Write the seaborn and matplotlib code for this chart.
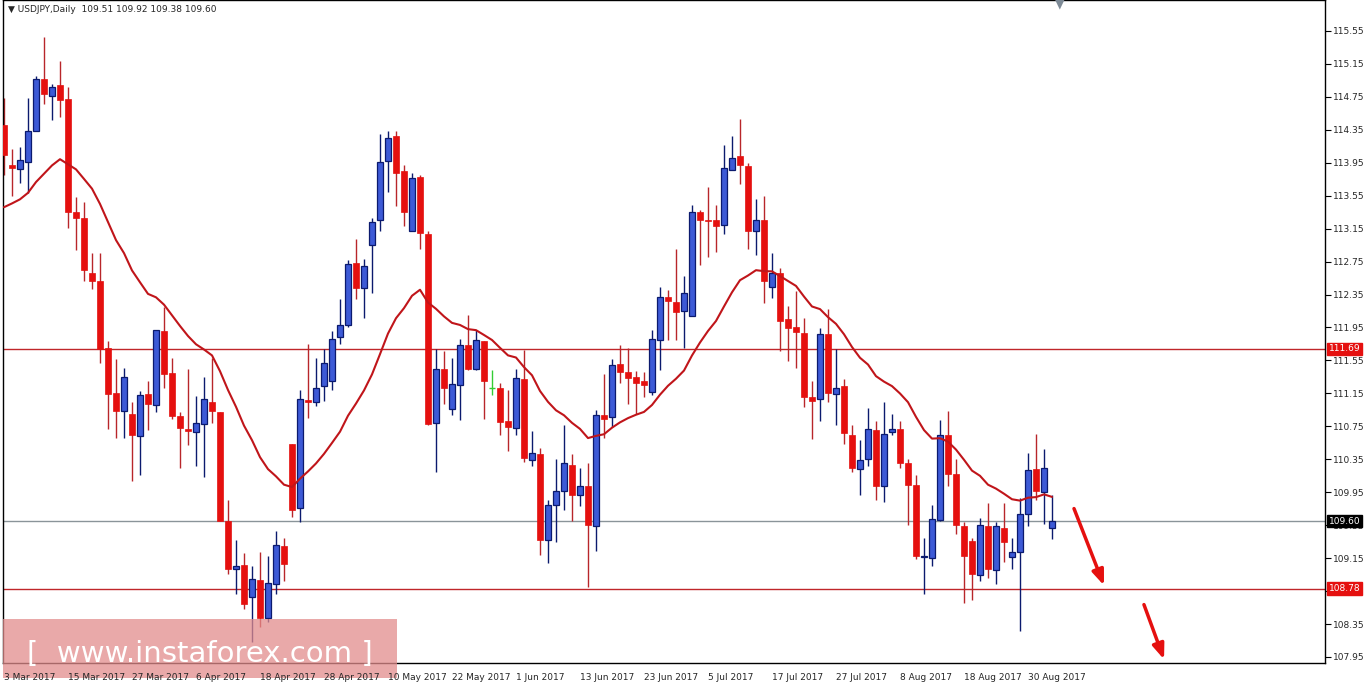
import numpy as np
import pandas as pd
import matplotlib
matplotlib.use("Agg")
import matplotlib.pyplot as plt
import seaborn as sns
from matplotlib.patches import Rectangle

opens = [114.41,113.92,113.87,113.96,114.33,114.96,114.76,114.89,114.72,113.35,113.28,112.61,112.52,111.70,111.16,110.93,110.90,110.63,111.14,111.01,
         111.91,111.40,110.88,110.72,110.68,110.78,111.05,110.92,109.60,109.02,109.07,108.68,108.89,108.42,108.83,109.30,110.54,109.76,111.07,111.05,
         111.24,111.30,111.83,111.98,112.73,112.43,112.95,113.25,113.97,114.27,113.85,113.12,113.78,113.09,110.79,111.45,110.96,111.25,111.74,111.45,
         111.79,111.22,111.21,110.82,110.73,111.33,110.34,110.41,109.37,109.79,109.97,110.28,109.92,110.03,109.54,110.89,110.86,111.51,111.41,111.35,
         111.30,111.17,111.80,112.32,112.26,112.15,112.09,113.35,113.25,113.25,113.19,113.86,114.03,113.91,113.12,113.25,112.44,112.61,112.05,111.95,
         111.88,111.11,111.08,111.87,111.14,111.24,110.64,110.23,110.35,110.70,110.02,110.68,110.72,110.31,110.04,109.16,109.15,109.61,110.64,110.17,
         109.54,109.36,108.95,109.54,109.00,109.52,109.16,109.23,109.69,110.23,109.95,109.51]
highs = [114.73,114.12,114.14,114.73,115.00,115.48,114.91,115.19,114.87,113.53,113.47,112.85,112.85,111.78,111.57,111.46,111.04,111.18,111.30,111.92,
         112.20,111.58,110.92,111.44,111.12,111.35,111.58,110.92,109.86,109.37,109.21,109.05,109.22,109.17,109.48,109.40,110.54,111.19,111.75,111.58,
         111.69,111.91,112.29,112.77,113.02,112.78,113.28,114.30,114.34,114.34,113.92,113.82,113.80,113.12,111.69,111.67,111.58,111.81,112.10,111.92,
         111.79,111.43,111.27,111.19,111.45,111.68,110.69,110.49,109.86,110.35,110.77,110.41,110.24,110.31,110.95,111.38,111.57,111.74,111.70,111.42,
         111.41,111.92,112.44,112.40,112.90,112.58,113.44,113.38,113.66,113.44,114.17,114.27,114.48,113.95,113.51,113.55,112.85,112.67,112.21,112.39,
         112.06,111.30,111.94,112.17,111.69,111.32,110.76,110.58,110.97,110.82,111.04,110.90,110.82,110.35,110.16,109.39,109.79,110.83,110.94,110.35,
         109.59,109.40,109.64,109.82,109.59,109.82,109.40,109.88,110.43,110.66,110.47,109.92]
lows = [113.80,113.55,113.70,113.58,114.33,114.66,114.47,114.50,113.16,112.89,112.52,112.42,111.52,110.72,110.61,110.61,110.09,110.16,110.71,110.92,
        111.22,110.84,110.25,110.52,110.27,110.13,110.79,109.60,108.96,108.71,108.53,108.13,108.31,108.37,108.71,108.87,109.65,109.59,110.85,111.00,
        111.06,111.19,111.75,111.95,112.30,112.06,112.37,113.12,113.60,113.43,113.18,113.12,112.90,110.77,110.20,111.02,110.89,110.83,111.43,111.43,
        110.84,111.13,110.64,110.45,110.65,110.32,110.27,109.19,109.09,109.34,109.74,109.60,109.78,108.80,109.24,110.61,110.74,111.27,111.02,110.90,
        111.11,111.13,111.43,111.80,111.80,111.70,112.09,112.71,112.80,112.86,113.08,113.86,113.69,112.90,112.83,112.25,112.31,111.67,111.54,111.46,
        110.99,110.60,110.82,111.04,110.77,110.54,110.19,109.92,110.27,109.86,109.83,110.64,110.24,109.55,109.14,108.72,109.05,109.60,110.02,109.44,
        108.60,108.64,108.87,108.91,108.83,109.10,109.02,108.26,109.54,109.86,109.56,109.38]
closes = [114.04,113.89,113.98,114.33,114.96,114.78,114.87,114.71,113.35,113.28,112.65,112.51,111.69,111.14,110.93,111.35,110.65,111.13,111.02,111.92,
          111.38,110.88,110.73,110.69,110.79,111.08,110.93,109.60,109.02,109.05,108.59,108.90,108.42,108.85,109.31,109.08,109.74,111.08,111.04,111.22,
          111.52,111.81,111.98,112.72,112.43,112.70,113.23,113.96,114.25,113.83,113.35,113.76,113.10,110.78,111.45,111.21,111.26,111.74,111.45,111.80,
          111.30,111.22,110.80,110.74,111.34,110.36,110.43,109.37,109.79,109.97,110.31,109.92,110.02,109.55,110.89,110.84,111.49,111.41,111.34,111.28,
          111.25,111.81,112.32,112.27,112.14,112.37,113.35,113.26,113.24,113.18,113.88,114.01,113.92,113.12,113.26,112.52,112.61,112.03,111.94,111.89,
          111.10,111.06,111.87,111.15,111.22,110.67,110.24,110.34,110.72,110.02,110.66,110.72,110.30,110.04,109.17,109.18,109.62,110.65,110.17,109.55,
          109.17,108.96,109.55,109.02,109.54,109.34,109.23,109.69,110.22,109.96,110.24,109.60]
ma_seed = 113.41
ma_span = 20
date_labels = ["3 Mar 2017","15 Mar 2017","27 Mar 2017","6 Apr 2017","18 Apr 2017","28 Apr 2017","10 May 2017",
               "22 May 2017","1 Jun 2017","13 Jun 2017","23 Jun 2017","5 Jul 2017","17 Jul 2017","27 Jul 2017",
               "8 Aug 2017","18 Aug 2017","30 Aug 2017"]
levels = [111.69, 108.78]
last_price = 109.60

sns.set_style("white")
plt.rcParams['font.family'] = ['DejaVu Sans']
FS = 6.5

df = pd.DataFrame({"o": opens, "h": highs, "l": lows, "c": closes})
df["i"] = np.arange(len(df))
a = 2.0 / (ma_span + 1)
ma = [ma_seed]
for c in df["c"].iloc[1:]:
    ma.append(a * c + (1 - a) * ma[-1])
df["ma"] = ma

W, H = 1366, 688
fig = plt.figure(figsize=(W / 100, H / 100), dpi=100)
ax = fig.add_axes([3 / W, (H - 663) / H, 1322 / W, 663 / H])
ax.set_xlim(-0.125, 165.125)
ax.set_ylim(107.877, 115.925)

for lv in levels:
    ax.axhline(lv, color="#c0262a", lw=1, zorder=1)
ax.axhline(last_price, color="#8a9499", lw=1, zorder=1)

up = df["c"] > df["o"]
dn = df["c"] < df["o"]
eq = df["c"] == df["o"]
navy, blue, red, wred = "#0b1a6e", "#3d5ad6", "#e5100f", "#b8262a"
ax.vlines(df["i"][up], df["l"][up], df["h"][up], color=navy, lw=1, zorder=2)
ax.vlines(df["i"][dn], df["l"][dn], df["h"][dn], color=wred, lw=1, zorder=2)
ax.vlines(df["i"][eq], df["l"][eq], df["h"][eq], color="#33cc33", lw=1, zorder=2)
ax.bar(df["i"][up], (df["c"] - df["o"])[up], bottom=df["o"][up], width=0.65,
       color=blue, edgecolor=navy, linewidth=0.9, zorder=3)
ax.bar(df["i"][dn], (df["o"] - df["c"])[dn], bottom=df["c"][dn], width=0.65,
       color=red, edgecolor=red, linewidth=0.5, zorder=3)
ax.hlines(df["c"][eq], df["i"][eq] - 0.35, df["i"][eq] + 0.35, color="#33cc33", lw=1, zorder=3)

sns.lineplot(data=df, x="i", y="ma", ax=ax, color="#c0151a", lw=1.5, zorder=4)

ax.yaxis.tick_right()
yt = np.round(np.arange(107.95, 115.56, 0.40), 2)
ax.set_yticks(yt)
ax.set_yticklabels([f"{v:.2f}" for v in yt], fontsize=FS)
ax.set_xticks(np.arange(0, 8 * len(date_labels), 8))
ax.set_xticklabels(date_labels, fontsize=FS, ha="left")
ax.tick_params(axis="both", direction="out", length=4, width=0.8, color="black", pad=2)
ax.tick_params(axis="x", pad=3)
ax.set_xlabel(""); ax.set_ylabel("")
ax.xaxis.set_zorder(7)
for s in ax.spines.values():
    s.set_color("black"); s.set_linewidth(1)

def price_box(v, fc, tc):
    ax.text(1.003, v, f"{v:.2f}", transform=ax.get_yaxis_transform(), fontsize=FS, color=tc,
            va="center", ha="left", bbox=dict(boxstyle="square,pad=0.2", fc=fc, ec=fc), zorder=10, clip_on=False)
price_box(levels[0], "#e5100f", "white")
price_box(levels[1], "#e5100f", "white")
price_box(last_price, "black", "white")

ax.text(0.004, 0.993, "▼ USDJPY,Daily  109.51 109.92 109.38 109.60", transform=ax.transAxes,
        fontsize=FS, va="top", ha="left")
fig.text(1060 / W, (H - 4) / H, "▼", color="#7d8a96", fontsize=9, ha="center", va="center")

ax.add_patch(Rectangle((3, 10), 394, 59, transform=None, fc="#e28c8c", alpha=0.75, ec="none",
                       zorder=5, clip_on=False))
ax.text(200, 34, "[  www.instaforex.com ]", transform=None, color="white", fontsize=21,
        ha="center", va="center", zorder=6, clip_on=False)

arrows = [((1073, 506), (1105, 588)), ((1143, 602), (1165, 662))]
for (x0, y0), (x1, y1) in arrows:
    ax.annotate("", xy=(x1, H - y1), xytext=(x0, H - y0), xycoords="figure pixels", textcoords="figure pixels",
                arrowprops=dict(arrowstyle="-|>,head_length=0.9,head_width=0.35", color="#e5100f", lw=2.5),
                annotation_clip=False)

fig.savefig("out.png", dpi=100)
